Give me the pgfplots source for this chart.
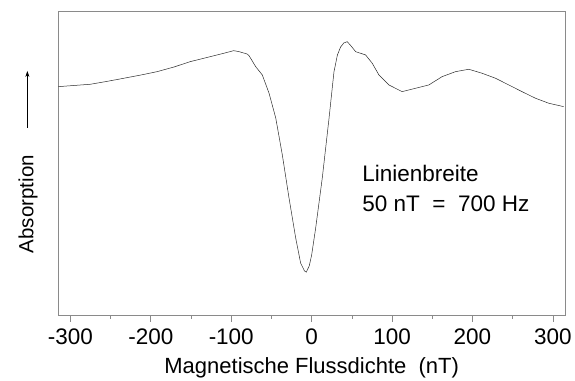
\documentclass[border=0pt]{standalone}
\usepackage{fontspec}
\setmainfont{Liberation Sans}
\usepackage{pgfplots}
\pgfplotsset{compat=1.18}
\usetikzlibrary{arrows.meta}
\definecolor{axisgray}{HTML}{8A8A8A}
\definecolor{curvegray}{HTML}{2A2A2A}
\begin{document}
\begin{tikzpicture}
\begin{axis}[
  scale only axis,
  width=507.7pt, height=305pt,
  xmin=-315.5, xmax=315.5,
  ymin=0, ymax=305,
  axis line style={axisgray, line width=0.9pt},
  xtick={-300,-200,-100,0,100,200,300},
  xticklabels={-300,-200,-100,0,100,200,300},
  minor x tick num=1,
  ytick=\empty,
  tick align=outside,
  xtick pos=bottom,
  major tick length=6pt,
  minor tick length=3pt,
  every tick/.style={axisgray, line width=0.7pt},
  font=\fontsize{22.5}{26}\selectfont,
  xticklabel style={font=\fontsize{22.5}{26}\selectfont, yshift=-3pt},
  xlabel={Magnetische Flussdichte\ \ (nT)},
  xlabel style={font=\fontsize{22}{26}\selectfont, yshift=-6pt},
  ylabel={Absorption\hspace{27pt}\tikz[baseline=-0.55ex]\draw[line width=0.5pt,-{Stealth[length=6pt,width=4pt]}] (0,0)--(57pt,0);},
  ylabel style={font=\fontsize{20.5}{24}\selectfont, at={(axis description cs:-0.059,0.505)}, anchor=center},
  clip=false,
]
\addplot[curvegray, line width=0.5pt] coordinates {
(-315,229.3) (-295,230.5) (-275,231.7) (-255,234.5) (-233.5,237.7) (-212,241) (-192.2,244.3)
(-171,249) (-151.2,254.3) (-130,258.5) (-109.3,262.7) (-96.9,265.3) (-90.3,264.3)
(-80.4,262) (-77.9,260.3) (-69.6,249.3) (-61.4,241) (-53.0,222.7) (-44.7,198)
(-36.5,161) (-28.2,118) (-19.9,78) (-13.7,52.7) (-9,45) (-6.7,43.7) (-3,50) (0,61) (5,88)
(13.2,138) (21.5,197) (27.7,244) (32,261) (36,269) (40,273) (44.2,274.3) (49,270) (54.7,264.3)
(67.1,261) (75.3,252.7) (83.6,241) (96,231) (112.5,224.3) (129.2,227.7)
(145.7,231) (162.2,239.3) (178.9,244.3) (195.4,246.7) (211.9,242.7)
(228.6,237.7) (245.1,231) (261.6,224.3) (278.3,217.7) (294.8,212.7) (313.4,209.3)
};
\node[anchor=base west, font=\fontsize{22.5}{26}\selectfont] at (axis cs:58.8,134) {Linienbreite};
\node[anchor=base west, font=\fontsize{22.5}{26}\selectfont] at (axis cs:58.8,104.3) {50 nT\ \ =\ \ 700 Hz};
\end{axis}
\useasboundingbox ([shift={(-58pt,-60pt)}]current axis.south west) rectangle ([shift={(9.3pt,11pt)}]current axis.north east);
\end{tikzpicture}
\end{document}
